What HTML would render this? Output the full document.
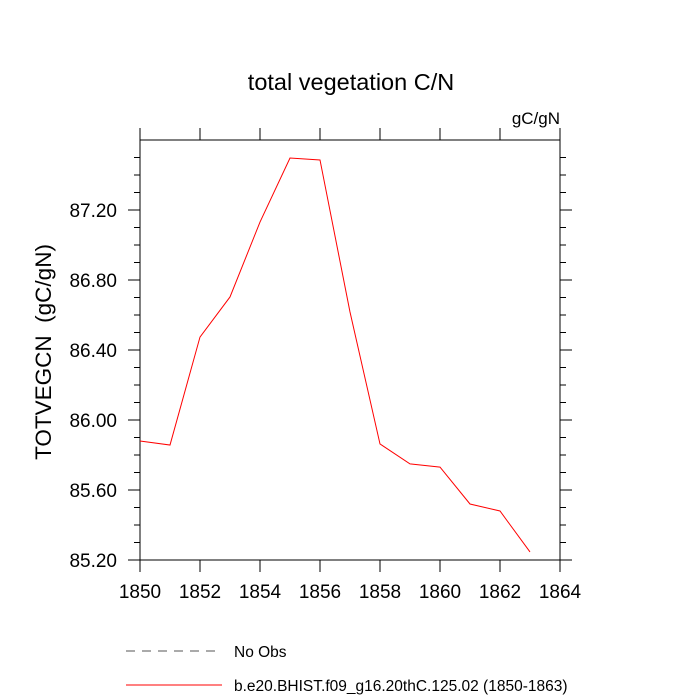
<!DOCTYPE html>
<html><head><meta charset="utf-8"><style>body{margin:0;background:#fff}svg{display:block}text{font-family:"Liberation Sans",sans-serif;fill:#000}</style></head>
<body>
<svg id="c" width="700" height="700" xmlns="http://www.w3.org/2000/svg">
<text x="351" y="90" font-size="23.5" text-anchor="middle">total vegetation C/N</text>
<text x="560" y="124" font-size="17" text-anchor="end">gC/gN</text>
<text transform="translate(51,352) rotate(-90)" font-size="22.5" text-anchor="middle" style="white-space:pre">TOTVEGCN  (gC/gN)</text>
<g id="ax"></g>
<g>
<line x1="126" y1="651" x2="222" y2="651" stroke="#555" stroke-dasharray="9,7"/>
<text x="234" y="657" font-size="15.5">No Obs</text>
<line x1="126" y1="685" x2="222" y2="685" stroke="red"/>
<text x="234" y="691" font-size="15.5">b.e20.BHIST.f09_g16.20thC.125.02 (1850-1863)</text>
</g>
</svg>
<script>
const years=[1850,1851,1852,1853,1854,1855,1856,1857,1858,1859,1860,1861,1862,1863];
const values=[85.88,85.857,86.474,86.703,87.131,87.497,87.486,86.617,85.863,85.749,85.731,85.52,85.48,85.246];
const xTicks=[1850,1852,1854,1856,1858,1860,1862,1864];
const yTicks=[85.2,85.6,86.0,86.4,86.8,87.2];
const yTickLabels=["85.20","85.60","86.00","86.40","86.80","87.20"];
const X=v=>140+(v-1850)*30, Y=v=>560-(v-85.2)*175;
const NS="http://www.w3.org/2000/svg", g=document.getElementById('ax');
function mk(t,a){const e=document.createElementNS(NS,t);for(const k in a)e.setAttribute(k,a[k]);g.appendChild(e);return e;}
const frame=mk('rect',{x:140,y:140,width:420,height:420,fill:'none',stroke:'#000','stroke-width':1});


xTicks.forEach(v=>{
 const a=mk('line',{x1:X(v),x2:X(v),y1:560,y2:572,stroke:'#000'});
 
 
 const b=mk('line',{x1:X(v),x2:X(v),y1:140,y2:128,stroke:'#000'});
 
 
 const t=mk('text',{x:X(v),y:598,'font-size':19,'text-anchor':'middle'});t.textContent=v;
 
 
});
for(let i=0;i<=24;i++){const v=85.2+i*0.1;const yy=Y(v);if(yy<140)break;const maj=i%4==0;const L=maj?12:6;
 const a=mk('line',{x1:140-L,x2:140,y1:yy,y2:yy,stroke:'#000'});
 
 
 const b=mk('line',{x1:560,x2:560+L,y1:yy,y2:yy,stroke:'#000'});
 
 }
yTicks.forEach((v,i)=>{const t=mk('text',{x:117,y:Y(v)+7,'font-size':19,'text-anchor':'end'});t.textContent=yTickLabels[i];
 
 });
const line=mk('polyline',{points:years.map((y,i)=>X(y)+','+Y(values[i])).join(' '),fill:'none',stroke:'red','stroke-width':1});


</script>
</body></html>
